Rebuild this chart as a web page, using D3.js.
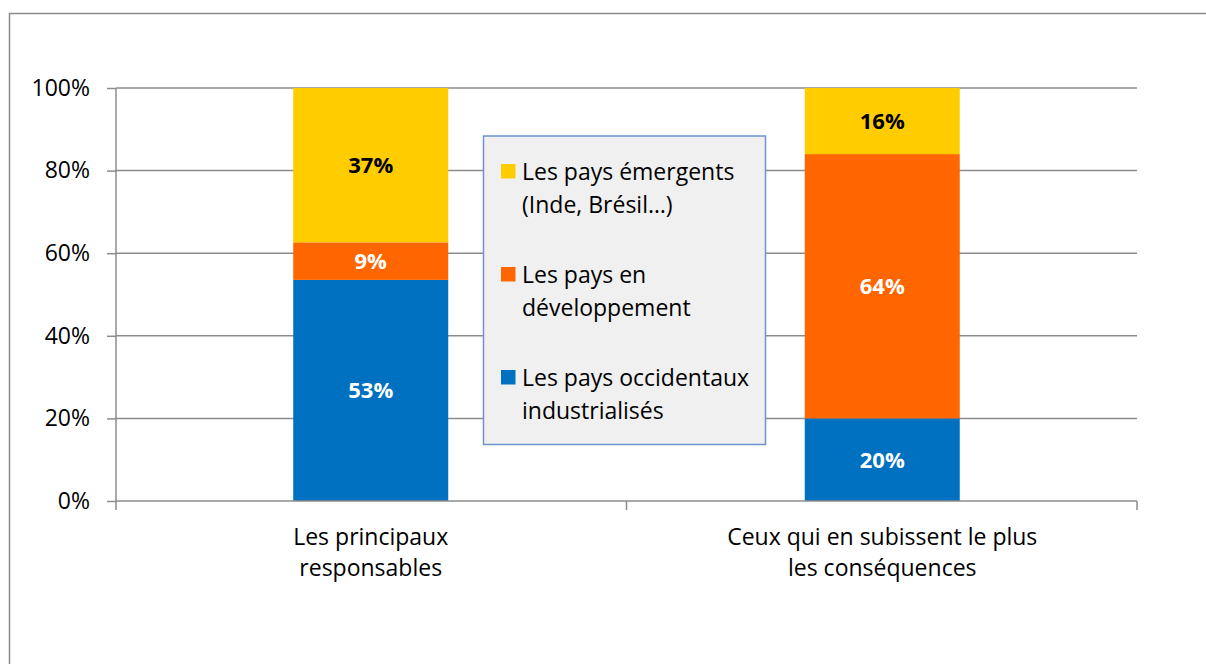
<!DOCTYPE html>
<html><head><meta charset="utf-8">
<script src="https://cdn.jsdelivr.net/npm/d3@7"></script>
<style>
html,body{margin:0;padding:0;background:#fff;}
svg{display:block;font-family:"Open Sans", sans-serif;}
</style></head>
<body>
<svg id="chart" width="1206" height="664"></svg>
<script>
const categories = [["Les principaux","responsables"],["Ceux qui en subissent le plus","les conséquences"]];
const seriesNames = [["Les pays occidentaux","industrialisés"],["Les pays en","développement"],["Les pays émergents","(Inde, Brésil…)"]];
const seriesColors = ["#0070C0","#FF6600","#FFCC00"];
const labelColors = ["#ffffff","#ffffff","#000000"];
const occidentaux = [53, 20];
const developpement = [9, 64];
const emergents = [37, 16];
const yTicks = [0, 0.2, 0.4, 0.6, 0.8, 1.0];

const FONT = "Open Sans";
const svg = d3.select("#chart");
const m = {left:116, right:1137, top:88, bottom:501};

// outer chart border
svg.append("rect").attr("x",9.5).attr("y",13.5).attr("width",1220).attr("height",700)
  .attr("fill","none").attr("stroke","#8c8c8c").attr("stroke-width",1.5);

const rows = categories.map((c,i)=>{
  const vals=[occidentaux[i],developpement[i],emergents[i]];
  const tot=d3.sum(vals);
  return {cat:i, vals, tot};
});

const x = d3.scaleBand().domain(d3.range(categories.length)).range([m.left,m.right])
  .paddingInner(0.697).paddingOuter(0.3465);
const y = d3.scaleLinear().domain([0,1]).range([m.bottom,m.top]);

// gridlines
svg.append("g").selectAll("line").data(yTicks.filter(t=>t>0)).join("line")
  .attr("x1",m.left).attr("x2",m.right).attr("y1",d=>y(d)).attr("y2",d=>y(d))
  .attr("stroke","#8c8c8c").attr("stroke-width",1.5);

// y axis
const yAxis = d3.axisLeft(y).tickValues(yTicks).tickFormat(d3.format(".0%")).tickSize(9).tickPadding(17);
const gy = svg.append("g").attr("transform",`translate(${m.left},0)`).call(yAxis);
gy.select(".domain").attr("stroke","#8c8c8c").attr("stroke-width",1.5).attr("d",`M0,${m.top}V${m.bottom}`);
gy.selectAll(".tick line").attr("stroke","#8c8c8c").attr("stroke-width",1.5);
gy.selectAll(".tick text").attr("font-family",FONT).attr("font-size",23).attr("fill","#000");

// bars
const stackData = rows.map(r=>{let acc=0;return r.vals.map((v,s)=>{const y0=acc/r.tot;acc+=v;return {cat:r.cat,s,v,y0,y1:acc/r.tot};});}).flat();
svg.append("g").selectAll("rect").data(stackData).join("rect")
  .attr("x",d=>x(d.cat)).attr("width",x.bandwidth())
  .attr("y",d=>y(d.y1)).attr("height",d=>y(d.y0)-y(d.y1))
  .attr("fill",d=>seriesColors[d.s]);

// x axis line and ticks
const gx = svg.append("g");
gx.append("line").attr("x1",m.left).attr("x2",m.right).attr("y1",m.bottom).attr("y2",m.bottom)
  .attr("stroke","#8c8c8c").attr("stroke-width",1.5);
const sepX = [m.left, (x(0)+x.bandwidth()+x(1))/2, m.right];
gx.selectAll("line.sep").data(sepX).join("line").attr("class","sep")
  .attr("x1",d=>d).attr("x2",d=>d).attr("y1",m.bottom).attr("y2",m.bottom+9)
  .attr("stroke","#8c8c8c").attr("stroke-width",1.5);
gx.selectAll("text").data(categories).join("text")
  .attr("x",(d,i)=>x(i)+x.bandwidth()/2).attr("y",545)
  .attr("text-anchor","middle").attr("font-size",23).attr("fill","#000")
  .selectAll("tspan").data(d=>d).join("tspan")
  .attr("x",function(){return d3.select(this.parentNode).attr("x");})
  .attr("dy",(d,i)=>i?31:0).text(d=>d);

// data labels
svg.append("g").selectAll("text").data(stackData).join("text")
  .attr("x",d=>x(d.cat)+x.bandwidth()/2).attr("y",d=>(y(d.y0)+y(d.y1))/2+8)
  .attr("text-anchor","middle").attr("font-size",22).attr("font-weight","bold")
  .attr("fill",d=>labelColors[d.s]).text(d=>d.v+"%");

// legend
const lg = svg.append("g");
lg.append("rect").attr("x",483.5).attr("y",136).attr("width",282).attr("height",308.5)
  .attr("fill","#f0f0f0").attr("stroke","#6b94cf").attr("stroke-width",1.5);
const legendOrder = [2,1,0];
const li = lg.selectAll("g.item").data(legendOrder).join("g").attr("class","item")
  .attr("transform",(d,i)=>`translate(501,${164+i*103})`);
li.append("rect").attr("width",14.5).attr("height",14.5).attr("fill",d=>seriesColors[d]);
li.append("text").attr("x",21).attr("y",16).attr("font-size",23).attr("fill","#000")
  .selectAll("tspan").data(d=>seriesNames[d]).join("tspan").attr("x",21)
  .attr("dy",(d,i)=>i?33:0).text(d=>d);
</script>
</body></html>
